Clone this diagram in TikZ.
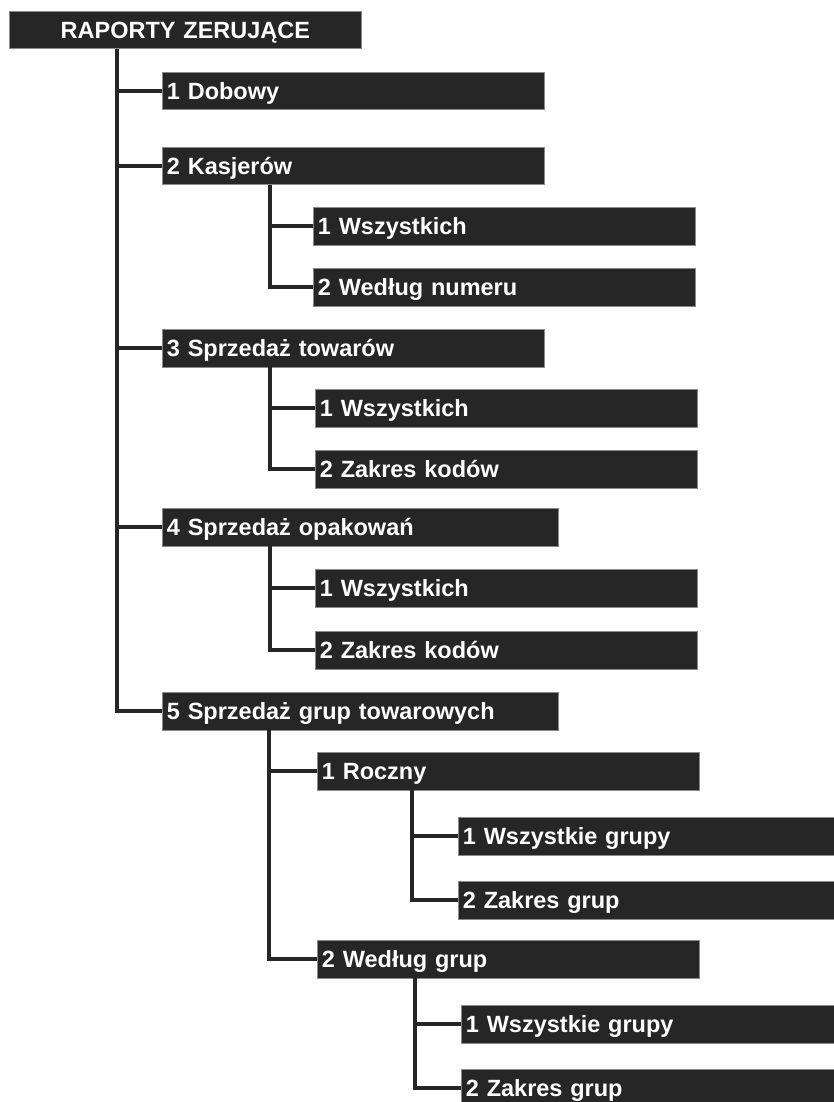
\documentclass[tikz,border=0pt]{standalone}
\usepackage{fontspec}
\setmainfont{Liberation Sans}
\usepackage{tikz}
\usetikzlibrary{positioning,calc}
\definecolor{zrFill}{HTML}{262626}
\definecolor{zrEdge}{HTML}{8A8A8A}
\definecolor{zrLine}{HTML}{262626}
\tikzset{
  zrnode/.style={
    draw=zrEdge, line width=0.8pt, fill=zrFill, text=white,
    font=\fontsize{23.5}{28}\selectfont\bfseries, anchor=north west,
    minimum height=37.5pt, text height=16.8pt, text depth=0pt,
    inner xsep=4.5pt, inner ysep=0pt, align=left, text width=#1
  },
  zrnode/.default=373pt,
  zrhead/.style={zrnode=343pt, align=center},
  zrlink/.style={draw=zrLine, line width=3.5pt}
}
\begin{document}
\begin{tikzpicture}[x=1pt, y=-1pt]
  \useasboundingbox (0,0) rectangle (833,1102);
  % menu items
  \node[zrhead] (top) at (9,11) {RAPORTY ZERUJĄCE};
  \node[zrnode] (a1) at (162,72) {1 Dobowy};
  \node[zrnode] (a2) at (162,147) {2 Kasjerów};
  \node[zrnode] (a21) at (313,207) {1 Wszystkich};
  \node[zrnode] (a22) at (313,268) {2 Według numeru};
  \node[zrnode] (a3) at (162,329) {3 Sprzedaż towarów};
  \node[zrnode] (a31) at (315,389) {1 Wszystkich};
  \node[zrnode] (a32) at (315,450) {2 Zakres kodów};
  \node[zrnode=387pt] (a4) at (162,508) {4 Sprzedaż opakowań};
  \node[zrnode] (a41) at (315,569) {1 Wszystkich};
  \node[zrnode] (a42) at (315,631) {2 Zakres kodów};
  \node[zrnode=387pt] (a5) at (162,692) {5 Sprzedaż grup towarowych};
  \node[zrnode] (a51) at (317,752) {1 Roczny};
  \node[zrnode] (a511) at (458,817) {1 Wszystkie grupy};
  \node[zrnode] (a512) at (458,881) {2 Zakres grup};
  \node[zrnode] (a52) at (317,940) {2 Według grup};
  \node[zrnode] (a521) at (461,1005) {1 Wszystkie grupy};
  \node[zrnode] (a522) at (461,1069) {2 Zakres grup};
  % trunks
  \coordinate (t0) at ([xshift=108pt]top.south west);
  \coordinate (t2) at ([xshift=108pt]a2.south west);
  \coordinate (t3) at ([xshift=108pt]a3.south west);
  \coordinate (t4) at ([xshift=108pt]a4.south west);
  \coordinate (t5) at ([xshift=107pt]a5.south west);
  \coordinate (t51) at ([xshift=95pt]a51.south west);
  \coordinate (t52) at ([xshift=98pt]a52.south west);
  \draw[zrlink] (t0) |- (a5.west);
  \foreach \n in {a1,a2,a3,a4}
    \draw[zrlink] (t0 |- \n.west) -- (\n.west);
  \draw[zrlink] (t2) |- (a22.west);
  \draw[zrlink] (t2 |- a21.west) -- (a21.west);
  \draw[zrlink] (t3) |- (a32.west);
  \draw[zrlink] (t3 |- a31.west) -- (a31.west);
  \draw[zrlink] (t4) |- (a42.west);
  \draw[zrlink] (t4 |- a41.west) -- (a41.west);
  \draw[zrlink] (t5) |- (a52.west);
  \draw[zrlink] (t5 |- a51.west) -- (a51.west);
  \draw[zrlink] (t51) |- (a512.west);
  \draw[zrlink] (t51 |- a511.west) -- (a511.west);
  \draw[zrlink] (t52) |- (a522.west);
  \draw[zrlink] (t52 |- a521.west) -- (a521.west);
\end{tikzpicture}
\end{document}
